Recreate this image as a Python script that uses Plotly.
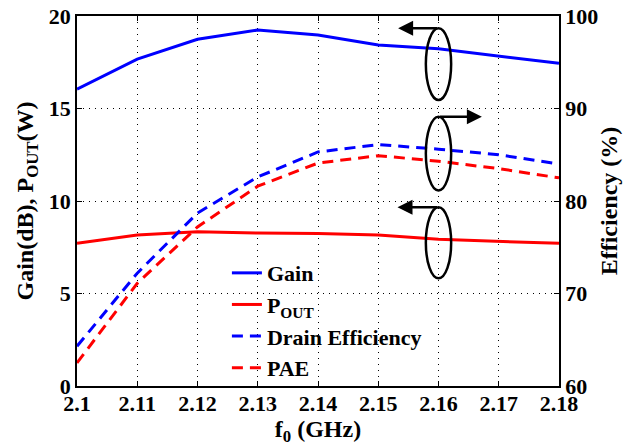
import plotly.graph_objects as go

# Frequency sweep (GHz)
freq = [2.10, 2.11, 2.12, 2.13, 2.14, 2.15, 2.16, 2.17, 2.18]
freq_labels = ["2.1", "2.11", "2.12", "2.13", "2.14", "2.15", "2.16", "2.17", "2.18"]

# Left axis series
gain_db = [16.05, 17.67, 18.74, 19.24, 18.97, 18.43, 18.23, 17.84, 17.44]
pout_w = [7.71, 8.16, 8.34, 8.27, 8.25, 8.16, 7.93, 7.82, 7.71]

# Right axis series (%)
drain_eff = [64.3, 72.2, 78.7, 82.6, 85.3, 86.1, 85.6, 85.0, 84.0]
pae = [62.5, 71.1, 77.2, 81.6, 84.1, 84.9, 84.3, 83.5, 82.5]

left_ticks = [0, 5, 10, 15, 20]
right_ticks = [60, 70, 80, 90, 100]

# Ellipse markers grouping the curves with their axis: (y0, y1) on the left axis,
# plus the arrow tip x for the axis they point to.
marker_x = 2.16
marker_half_w = 0.0021
groups = [
    (15.46, 19.34, 2.1533),   # Gain -> left axis
    (10.57, 14.56, 2.1672),   # efficiencies -> right axis
    (5.82, 9.66, 2.1532),     # Pout -> left axis
]

BLUE = "rgb(0,0,255)"
RED = "rgb(255,0,0)"
FONT = "Liberation Serif, Times New Roman, serif"
DASH = "11px,7px"

fig = go.Figure()
fig.add_trace(go.Scatter(x=freq, y=gain_db, name="Gain", mode="lines",
                         line=dict(color=BLUE, width=3)))
fig.add_trace(go.Scatter(x=freq, y=pout_w, name="P<sub>OUT</sub>", mode="lines",
                         line=dict(color=RED, width=3)))
fig.add_trace(go.Scatter(x=freq, y=drain_eff, name="Drain Efficiency", mode="lines",
                         yaxis="y2", line=dict(color=BLUE, width=3, dash=DASH)))
fig.add_trace(go.Scatter(x=freq, y=pae, name="PAE", mode="lines",
                         yaxis="y2", line=dict(color=RED, width=3, dash=DASH)))

for y0, y1, tip_x in groups:
    fig.add_shape(type="circle", xref="x", yref="y",
                  x0=marker_x - marker_half_w, x1=marker_x + marker_half_w,
                  y0=y0, y1=y1, line=dict(color="black", width=2.5))
    fig.add_annotation(x=tip_x, y=y1, ax=marker_x, ay=y1, xref="x", yref="y",
                       axref="x", ayref="y", text="", showarrow=True,
                       arrowhead=2, arrowsize=1.2, arrowwidth=2.5,
                       arrowcolor="black", standoff=0, startstandoff=0)

tickfont = dict(family=FONT, size=22, color="black", weight="bold")
titlefont = dict(family=FONT, size=24, color="black", weight="bold")

fig.update_layout(
    width=624, height=446,
    margin=dict(l=77, r=65, t=16, b=60, autoexpand=False),
    paper_bgcolor="white", plot_bgcolor="white",
    font=dict(family=FONT, color="black"),
    showlegend=True,
    legend=dict(x=0.311, y=0.362, xanchor="left", yanchor="top",
                bgcolor="rgba(0,0,0,0)", borderwidth=0,
                font=dict(family=FONT, size=22, color="black", weight="bold"),
                tracegroupgap=0),
    xaxis=dict(range=[2.1, 2.18], tickvals=freq, ticktext=freq_labels,
               ticks="inside", ticklen=5, tickcolor="black", ticklabelstandoff=-3,
               showline=True, linecolor="black", linewidth=1.5, mirror="ticks",
               showgrid=True, gridcolor="black", gridwidth=1, griddash="1px,5px",
               zeroline=False, tickfont=tickfont, automargin=False,
               title=dict(text="f<sub>0</sub> (GHz)", font=titlefont, standoff=3)),
    yaxis=dict(range=[0, 20], tickvals=left_ticks,
               ticks="inside", ticklen=5, tickcolor="black",
               showline=True, linecolor="black", linewidth=1.5,
               showgrid=True, gridcolor="black", gridwidth=1, griddash="1px,5px",
               zeroline=False, tickfont=tickfont, automargin=False,
               title=dict(text="Gain(dB), P<sub>OUT</sub>(W)", font=titlefont, standoff=8)),
    yaxis2=dict(range=[60, 100], tickvals=right_ticks, overlaying="y", side="right",
                ticks="inside", ticklen=5, tickcolor="black",
                showline=True, linecolor="black", linewidth=1.5,
                showgrid=False, zeroline=False, tickfont=tickfont, automargin=False,
                title=dict(text="Efficiency (%)", font=titlefont, standoff=3)),
)

fig.write_html("out.html")
